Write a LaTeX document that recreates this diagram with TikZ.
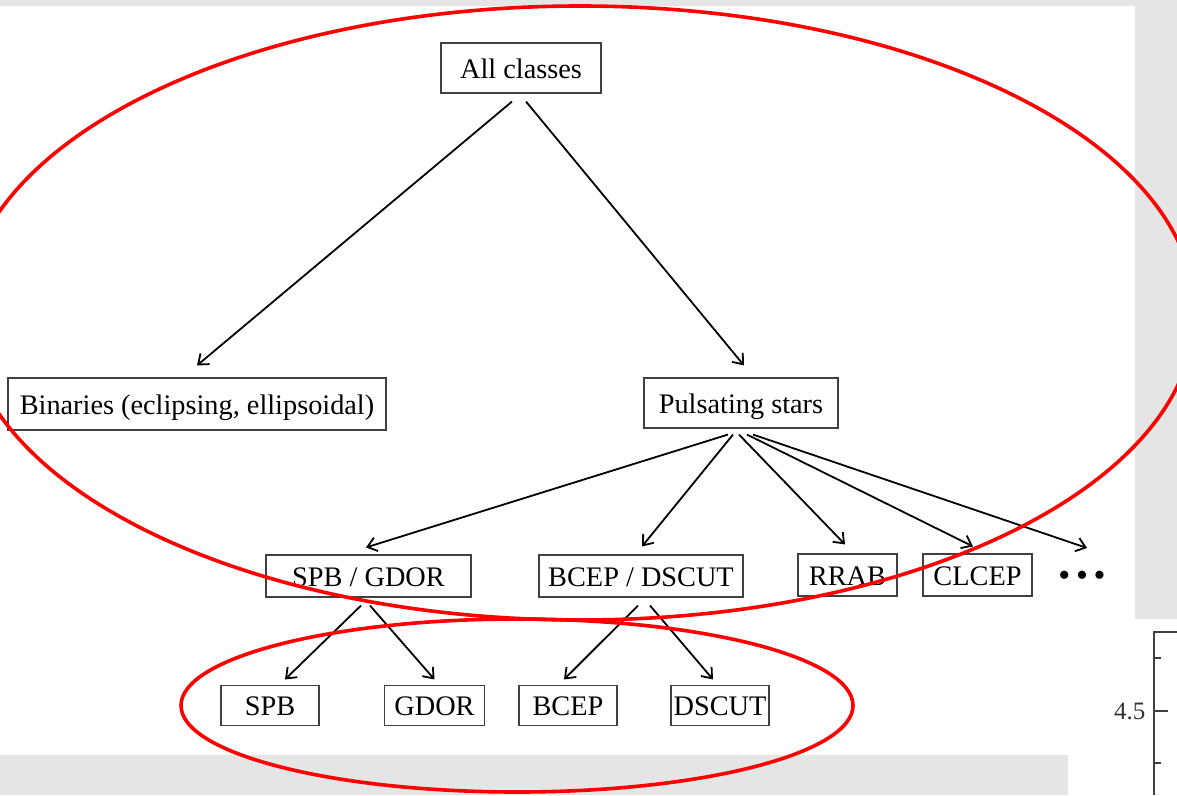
\documentclass[tikz,border=0pt]{standalone}
\usepackage{fontspec}
\setmainfont{Liberation Serif}
\usetikzlibrary{arrows.meta}

\tikzset{
  cls/.style={draw=black!75, line width=1.1pt, inner sep=0pt,
    text height=24pt, text depth=4pt},
  edge/.style={-{Straight Barb[length=9pt,width=14pt]}, line width=1.8pt},
  ring/.style={red, line width=3.6pt}
}

\begin{document}
\begin{tikzpicture}[x=1pt, y=-1pt, font=\fontsize{28.3}{34}\selectfont]
    \useasboundingbox (0,0) rectangle (1177,795);

    % Grey page behind the slide
    \fill[black!10] (0,0) rectangle (1177,795);
    \fill[white] (0,5.5) rectangle (1135,755);
    \fill[white] (1068,619) rectangle (1177,795);

    % Piece of a plot on the right
    \draw[black!75, line width=1.2pt] (1177,632) -- (1154,632) -- (1154,795);
    \draw[black!75, line width=1.2pt] (1154,658) -- (1161,658);
    \draw[black!75, line width=1.2pt] (1154,711) -- (1168,711);
    \draw[black!75, line width=1.2pt] (1154,763) -- (1161,763);
    \node[anchor=east, text=black!80, font=\fontsize{25}{30}\selectfont] (tick) at (1149,711) {4.5};

    % Class tree
    \node[cls, minimum width=160pt, minimum height=50pt] (all) at (521,68) {All classes};
    \node[cls, minimum width=378pt, minimum height=52pt] (bin) at (197,404) {Binaries (eclipsing, ellipsoidal)};
    \node[cls, minimum width=194pt, minimum height=50pt] (puls) at (741,403) {Pulsating stars};

    \node[cls, minimum width=205pt, minimum height=42pt] (spgd) at (368.5,576) {SPB / GDOR};
    \node[cls, minimum width=204pt, minimum height=42pt] (bcds) at (641,576) {BCEP / DSCUT};
    \node[cls, minimum width=99pt, minimum height=42pt] (rrab) at (847.5,575) {RRAB};
    \node[cls, minimum width=109pt, minimum height=42pt] (clcep) at (977.5,575) {CLCEP};
    \node[font=\fontsize{34}{34}\selectfont] (dots) at (1082,579) {•\,•\,•};

    \node[cls, minimum width=98pt, minimum height=40pt] (spb) at (270,705.5) {SPB};
    \node[cls, minimum width=100pt, minimum height=40pt] (gdor) at (434.5,705.5) {GDOR};
    \node[cls, minimum width=98pt, minimum height=40pt] (bcep) at (568,705.5) {BCEP};
    \node[cls, minimum width=98pt, minimum height=40pt] (dscut) at (720,705.5) {DSCUT};

    % Arrows
    \draw[edge] ([xshift=-9pt,yshift=-8pt]all.south) -- ([yshift=12pt]bin.north);
    \draw[edge] ([xshift=5pt,yshift=-8pt]all.south) -- ([xshift=3pt,yshift=12pt]puls.north);

    \draw[edge] ([xshift=-13pt,yshift=-6pt]puls.south) -- ([xshift=-2.5pt,yshift=7pt]spgd.north);
    \draw[edge] ([xshift=-8pt,yshift=-6pt]puls.south) -- ([xshift=1pt,yshift=8pt]bcds.north);
    \draw[edge] ([xshift=-2pt,yshift=-6pt]puls.south) -- ([xshift=-2.5pt,yshift=9pt]rrab.north);
    \draw[edge] ([xshift=6pt,yshift=-6pt]puls.south) -- ([xshift=-4.5pt,yshift=7pt]clcep.north);
    \draw[edge] ([xshift=12pt,yshift=-6pt]puls.south) -- ([xshift=5pt,yshift=31pt]dots.center);

    \draw[edge] ([xshift=-7.5pt,yshift=-8pt]spgd.south) -- ([xshift=15pt,yshift=5.5pt]spb.north);
    \draw[edge] ([xshift=1.5pt,yshift=-8pt]spgd.south) -- ([yshift=5.5pt]gdor.north);
    \draw[edge] ([xshift=-3pt,yshift=-8pt]bcds.south) -- ([xshift=-4pt,yshift=5.5pt]bcep.north);
    \draw[edge] ([xshift=9pt,yshift=-8pt]bcds.south) -- ([xshift=-7pt,yshift=5.5pt]dscut.north);

    % Red rings on top
    \begin{scope}
        \clip (0,0) rectangle (1177,795);
        \draw[ring] (580,313) ellipse [x radius=615pt, y radius=307pt];
        \draw[ring] (517,705.5) ellipse [x radius=336pt, y radius=86.5pt];
    \end{scope}
\end{tikzpicture}
\end{document}
